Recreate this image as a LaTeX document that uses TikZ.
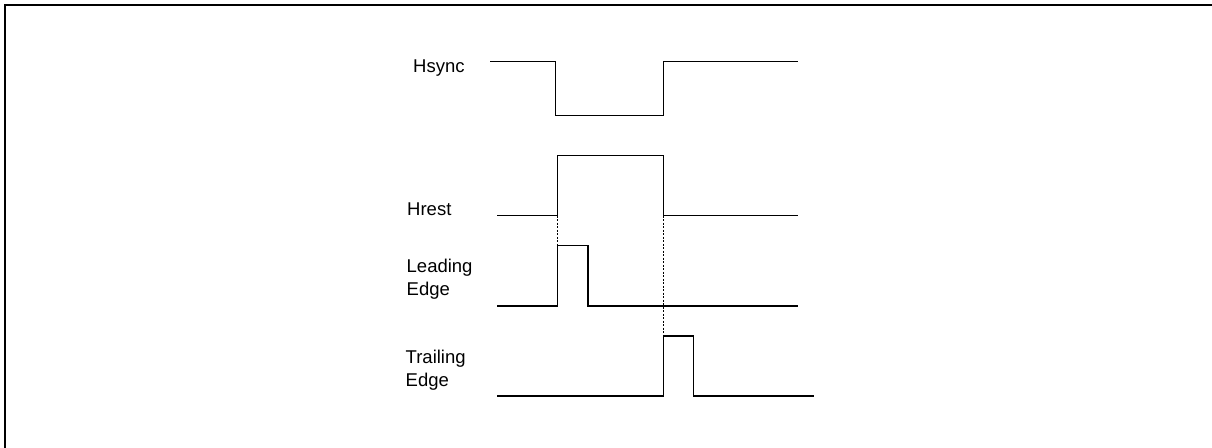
\documentclass[tikz,border=0pt]{standalone}
\usepackage{fontspec}
\setmainfont{Liberation Sans}
\begin{document}
\begin{tikzpicture}[x=1pt,y=-1pt,
  lbl/.style={anchor=west,inner sep=0pt,align=left,font=\fontsize{18.5}{22.6}\selectfont},
  wave/.style={line width=1.3pt,line join=miter},
  guide/.style={line width=0.6pt,dash pattern=on 2pt off 1.5pt},
  frame/.style={line width=2pt}]
\useasboundingbox (0,0) rectangle (1212,447);
% frame (only top and left edges show)
\coordinate (fbl) at (5,460);
\coordinate (ftl) at (5,5);
\coordinate (ftr) at (1220,5);
\draw[frame] (fbl) -- (ftl) -- (ftr);
% labels
\node[lbl] (lhs) at (413,68.5) {Hsync};
\node[lbl] (lhr) at (407,209.5) {Hrest};
\node[lbl] (lle) at (406.5,279.5) {Leading\\Edge};
\node[lbl] (lte) at (405.5,370) {Trailing\\Edge};
% Hsync
\coordinate (hs0) at (490,61.7);
\coordinate (hs1) at (555.7,61.7);
\coordinate (hs2) at (555.7,115.3);
\coordinate (hs3) at (663.3,115.3);
\coordinate (hs4) at (663.3,61.7);
\coordinate (hs5) at (798.3,61.7);
\draw[wave] (hs0) -- (hs1) -- (hs2) -- (hs3) -- (hs4) -- (hs5);
% Hrest
\coordinate (hr0) at (497.3,215.7);
\coordinate (hr1) at (557.7,215.7);
\coordinate (hr2) at (557.7,155.7);
\coordinate (hr3) at (663.3,155.7);
\coordinate (hr4) at (663.3,215.7);
\coordinate (hr5) at (798.3,215.7);
\draw[wave] (hr0) -- (hr1) -- (hr2) -- (hr3) -- (hr4) -- (hr5);
% Leading edge
\coordinate (le0) at (497.3,306);
\coordinate (le1) at (557.7,306);
\coordinate (le2) at (557.7,245.7);
\coordinate (le3) at (588,245.7);
\coordinate (le4) at (588,306);
\coordinate (le5) at (798.3,306);
\draw[wave] (le0) -- (le1) -- (le2) -- (le3) -- (le4) -- (le5);
% Trailing edge
\coordinate (te0) at (497.3,396);
\coordinate (te1) at (663.3,396);
\coordinate (te2) at (663.3,336);
\coordinate (te3) at (693.3,336);
\coordinate (te4) at (693.3,396);
\coordinate (te5) at (814,396);
\draw[wave] (te0) -- (te1) -- (te2) -- (te3) -- (te4) -- (te5);
% guides
\draw[guide] (hr1) -- (le2);
\draw[guide] (hr4) -- (te2);
\end{tikzpicture}
\end{document}
